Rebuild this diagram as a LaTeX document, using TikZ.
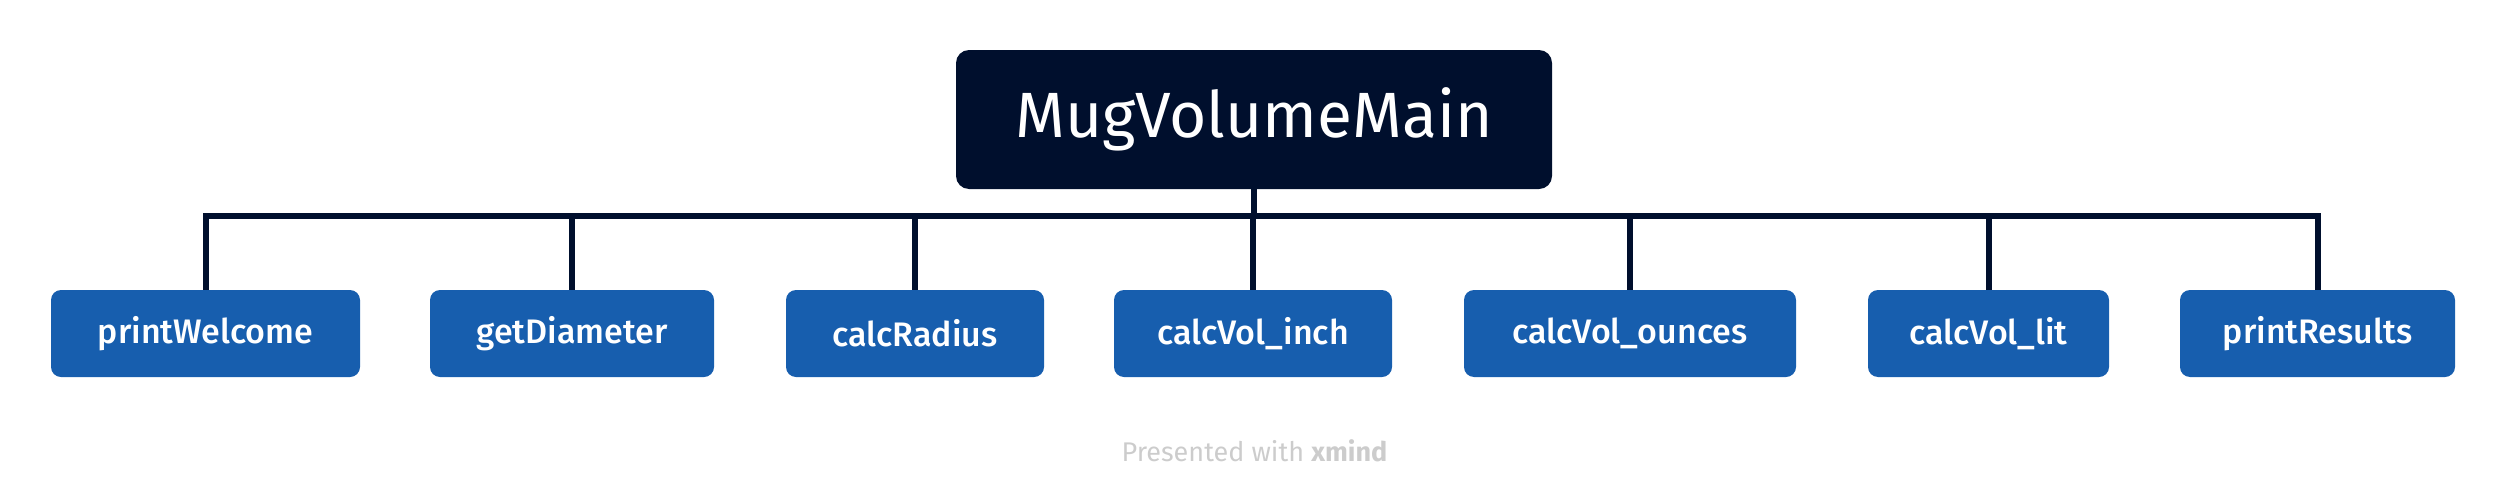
\documentclass[tikz,border=0pt]{standalone}
\usepackage{fontspec}
\setmainfont{Fira Sans}
\newfontfamily\medfont{Fira Sans}[UprightFont=* Medium,BoldFont=* Bold]
\definecolor{navy}{HTML}{000F2D}
\definecolor{childblue}{HTML}{175EAE}
\definecolor{footgray}{HTML}{CCCCCC}
\begin{document}
\begin{tikzpicture}[x=1pt,y=-1pt,
  rootbox/.style={fill=navy,rounded corners=13pt,minimum width=596pt,minimum height=139pt,inner sep=0pt,text=white,font=\fontsize{64}{66}\selectfont},
  childbox/.style={fill=childblue,rounded corners=10pt,minimum height=87pt,inner sep=0pt,text=white,font=\medfont\fontsize{34}{36}\selectfont},
  link/.style={draw=navy,line width=6pt}]
\useasboundingbox (0,0) rectangle (2506,498);
\node[rootbox] (root) at (1254,119.5) {MugVolumeMain};
\node[childbox,minimum width=309pt] (c1) at (205.5,333.5) {printWelcome};
\node[childbox,minimum width=284pt] (c2) at (572,333.5) {getDiameter};
\node[childbox,minimum width=258pt] (c3) at (915,333.5) {calcRadius};
\node[childbox,minimum width=278pt] (c4) at (1253,333.5) {calcVol\_inch};
\node[childbox,minimum width=332pt] (c5) at (1630,333.5) {calcVol\_ounces};
\node[childbox,minimum width=241pt] (c6) at (1988.5,333.5) {calcVol\_lit};
\node[childbox,minimum width=275pt] (c7) at (2317.5,333.5) {printResults};
\coordinate (bar) at (0,216);
\draw[link] (root.south) -- (root.south |- bar);
\draw[link] (c1.north) -- (c1.north |- bar) -- (c7.north |- bar) -- (c7.north);
\foreach \c in {c2,c3,c4,c5,c6} \draw[link] (\c.north) -- (\c.north |- bar);
\node[text=footgray,font=\fontsize{27}{29}\selectfont] (foot) at (1254.5,451) {Presented with \textbf{xmind}};
\end{tikzpicture}
\end{document}
